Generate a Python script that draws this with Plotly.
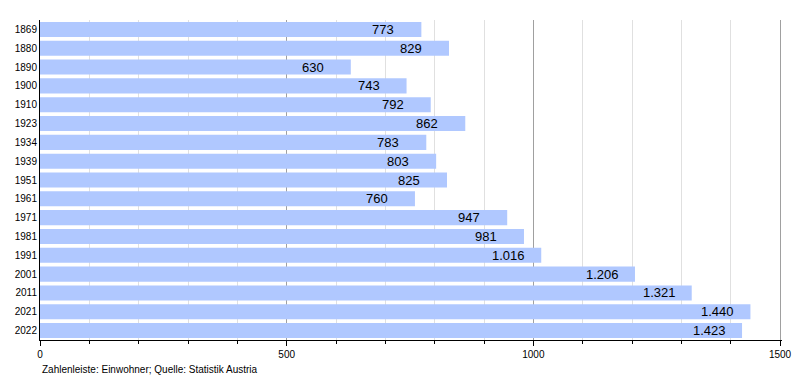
import plotly.graph_objects as go

years = ["1869", "1880", "1890", "1900", "1910", "1923", "1934", "1939", "1951", "1961",
         "1971", "1981", "1991", "2001", "2011", "2021", "2022"]
population = [773, 829, 630, 743, 792, 862, 783, 803, 825, 760,
              947, 981, 1016, 1206, 1321, 1440, 1423]

def fmt(v):
    return f"{v:,}".replace(",", ".")

fig = go.Figure()
fig.add_trace(go.Bar(
    y=years, x=population, orientation="h",
    marker=dict(color="#b0c8ff", line=dict(width=0)),
    hoverinfo="skip", cliponaxis=False,
))

for i, v in enumerate(population):
    fig.add_annotation(x=v, y=i, text=fmt(v), showarrow=False,
                       xanchor="left", xshift=-51, yanchor="middle",
                       font=dict(family="Liberation Sans, Arial", size=13, color="#000"))

fig.add_annotation(x=0, y=-0.07, xref="paper", yref="paper", text="Zahlenleiste: Einwohner; Quelle: Statistik Austria",
                   showarrow=False, xanchor="left", yanchor="top",
                   font=dict(family="Liberation Sans, Arial", size=10, color="#000"))

fig.update_layout(
    width=800, height=380,
    margin=dict(l=40, r=18, t=20, b=40, autoexpand=False),
    paper_bgcolor="white", plot_bgcolor="white",
    bargap=0.2, showlegend=False,
    font=dict(family="Liberation Sans, Arial", size=10, color="#000"),
)
fig.update_xaxes(
    range=[0, 1504], dtick=500, tick0=0,
    showgrid=True, gridcolor="#a0a0a0", gridwidth=1,
    ticks="outside", ticklen=5, tickcolor="#000",
    showline=True, linecolor="#000", linewidth=1,
    zeroline=False, automargin=False,
    minor=dict(dtick=100, showgrid=True, gridcolor="#e0e0e0", ticks="outside", ticklen=3, tickcolor="#000"),
    tickfont=dict(size=10),
    fixedrange=True,
)
fig.update_yaxes(
    type="category", range=[len(years) - 0.5, -0.5],
    showline=True, linecolor="#000", linewidth=1,
    ticks="", showgrid=False, automargin=False,
    tickfont=dict(size=10),
    fixedrange=True,
)

fig.write_html("out.html", config={"displayModeBar": False},
               post_script="document.body.style.margin='0';")
